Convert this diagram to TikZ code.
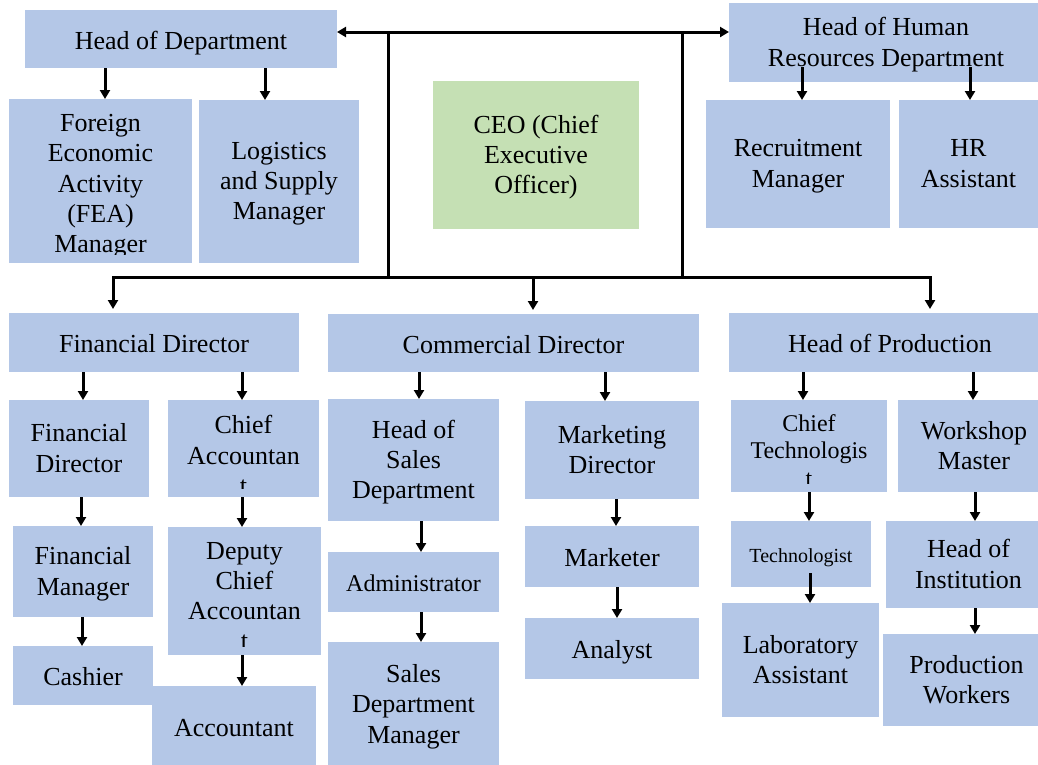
\documentclass[tikz,border=0pt]{standalone}
\usepackage{fontspec}
\setmainfont{Liberation Serif}
\usetikzlibrary{arrows.meta}

\definecolor{boxblue}{HTML}{B4C7E7}
\definecolor{ceogreen}{HTML}{C5E0B4}

\tikzset{
  orgbox/.style={rectangle, draw=none, inner sep=0pt, outer sep=0pt},
  orgtext/.style={align=center, inner sep=0pt,
    font=\fontsize{26}{30.3}\selectfont,
    execute at begin node=\strut, execute at end node=\strut,
    yshift=-4pt},
  smalltext/.style={font=\fontsize{24}{27.5}\selectfont},
  tinytext/.style={font=\fontsize{20}{24}\selectfont},
  link/.style={line width=3pt, draw=black, line cap=rect},
  arr/.style={line width=3pt, draw=black, -{Triangle[length=9pt,width=10pt]}},
  dblarr/.style={line width=3pt, draw=black,
    {Triangle[length=9pt,width=10pt]}-{Triangle[length=9pt,width=10pt]}},
}

% #1 name, #2 left, #3 top, #4 right, #5 bottom, #6 fill, #7 text options, #8 text
\newcommand\orgunit[8]{%
  \node[orgbox, fill=#6, minimum width={(#4-#2)*1pt}, minimum height={(#5-#3)*1pt}]
    (#1) at ({(#2+#4)/2},{(#3+#5)/2}) {};
  \begin{scope}
    \clip ([yshift=-9pt]#1.north west) rectangle ([yshift=9pt]#1.south east);
    \node[orgtext, #7] (#1-t) at (#1.center) {#8};
  \end{scope}
}

\begin{document}
\begin{tikzpicture}[x=1pt, y=-1pt]
\useasboundingbox (0,0) rectangle (1038,764);

% top row
\orgunit{hod}{25}{10}{337}{68}{boxblue}{}{Head of Department}
\orgunit{fea}{9}{99}{192}{263}{boxblue}{yshift=-3pt}{Foreign\\Economic\\Activity\\(FEA)\\Manager}
\orgunit{log}{199}{100}{359}{263}{boxblue}{}{Logistics\\and Supply\\Manager}
\orgunit{ceo}{433}{81}{639}{229}{ceogreen}{}{CEO (Chief\\Executive\\Officer)}
\orgunit{hr}{729}{3}{1043}{82}{boxblue}{}{Head of Human\\Resources Department}
\orgunit{rec}{706}{100}{890}{228}{boxblue}{}{Recruitment\\Manager}
\orgunit{hra}{899}{100}{1038}{228}{boxblue}{}{HR\\Assistant}

% directors
\orgunit{fin}{9}{313}{299}{372}{boxblue}{}{Financial Director}
\orgunit{com}{328}{314}{699}{372}{boxblue}{}{Commercial Director}
\orgunit{prod}{729}{313}{1051}{372}{boxblue}{}{Head of Production}

% finance
\orgunit{fd}{9}{400}{149}{497}{boxblue}{}{Financial\\Director}
\orgunit{fm}{13}{526}{153}{617}{boxblue}{}{Financial\\Manager}
\orgunit{cash}{13}{646}{153}{705}{boxblue}{}{Cashier}
\orgunit{ca}{168}{400}{319}{497}{boxblue}{yshift=-7pt}{Chief\\Accountan\\t}
\orgunit{dca}{168}{527}{321}{655}{boxblue}{yshift=-5.5pt}{Deputy\\Chief\\Accountan\\t}
\orgunit{acc}{152}{686}{316}{766}{boxblue}{}{Accountant}

% commerce
\orgunit{hos}{328}{399}{499}{521}{boxblue}{}{Head of\\Sales\\Department}
\orgunit{adm}{328}{552}{499}{612}{boxblue}{smalltext}{Administrator}
\orgunit{sdm}{328}{642}{499}{767}{boxblue}{}{Sales\\Department\\Manager}
\orgunit{md}{525}{401}{699}{499}{boxblue}{}{Marketing\\Director}
\orgunit{mkt}{525}{526}{699}{587}{boxblue}{}{Marketer}
\orgunit{an}{525}{618}{699}{679}{boxblue}{}{Analyst}

% production
\orgunit{ct}{731}{400}{887}{492}{boxblue}{smalltext, yshift=-4.5pt}{Chief\\Technologis\\t}
\orgunit{tech}{731}{521}{871}{587}{boxblue}{tinytext}{Technologist}
\orgunit{lab}{722}{603}{879}{717}{boxblue}{}{Laboratory\\Assistant}
\orgunit{wm}{898}{400}{1050}{492}{boxblue}{}{Workshop\\Master}
\orgunit{hoi}{886}{521}{1051}{608}{boxblue}{}{Head of\\Institution}
\orgunit{pw}{883}{634}{1050}{726}{boxblue}{}{Production\\Workers}

% frame around the CEO
\coordinate (tl) at (388,32);
\coordinate (tr) at (682,32);
\coordinate (bl) at (388,277);
\coordinate (br) at (682,277);
\coordinate (dl) at (113,277);
\coordinate (dm) at (533,277);
\coordinate (dr) at (930,277);
\draw[link] (tl) -- (bl) (tr) -- (br) (dl) -- (dr);
\draw[dblarr] (hod.east |- tl) -- (hr.west |- tl);
\draw[arr, shorten >=4pt] (dl) -- (dl |- fin.north);
\draw[arr, shorten >=4pt] (dm) -- (dm |- com.north);
\draw[arr, shorten >=4pt] (dr) -- (dr |- prod.north);

% top row links
\draw[arr] (hod.south -| 105,0) -- (fea.north -| 105,0);
\draw[arr] (hod.south -| 265,0) -- (log.north -| 265,0);
\coordinate (hr1) at (802,67);
\coordinate (hr2) at (970,67);
\draw[arr] (hr1) -- (hr1 |- rec.north);
\draw[arr] (hr2) -- (hr2 |- hra.north);

% finance links
\draw[arr] (fin.south -| 83,0) -- (fd.north -| 83,0);
\draw[arr] (fin.south -| 242,0) -- (ca.north -| 242,0);
\draw[arr] (fd.south -| 81,0) -- (fm.north -| 81,0);
\draw[arr] (fm.south -| 82,0) -- (cash.north -| 82,0);
\draw[arr] (ca.south -| 242,0) -- (dca.north -| 242,0);
\draw[arr] (dca.south -| 242,0) -- (acc.north -| 242,0);

% commerce links
\draw[arr] (com.south -| 419,0) -- (hos.north -| 419,0);
\draw[arr] (com.south -| 605,0) -- (md.north -| 605,0);
\draw[arr] (hos.south -| 421,0) -- (adm.north -| 421,0);
\draw[arr] (adm.south -| 421,0) -- (sdm.north -| 421,0);
\draw[arr] (md.south -| 616,0) -- (mkt.north -| 616,0);
\draw[arr] (mkt.south -| 617,0) -- (an.north -| 617,0);

% production links
\draw[arr] (prod.south -| 803,0) -- (ct.north -| 803,0);
\draw[arr] (prod.south -| 973,0) -- (wm.north -| 973,0);
\draw[arr] (ct.south -| 809,0) -- (tech.north -| 809,0);
\coordinate (tk) at (810,573);
\draw[arr] (tk) -- (tk |- lab.north);
\draw[arr] (wm.south -| 975,0) -- (hoi.north -| 975,0);
\draw[arr] (hoi.south -| 975,0) -- (pw.north -| 975,0);
\end{tikzpicture}
\end{document}
